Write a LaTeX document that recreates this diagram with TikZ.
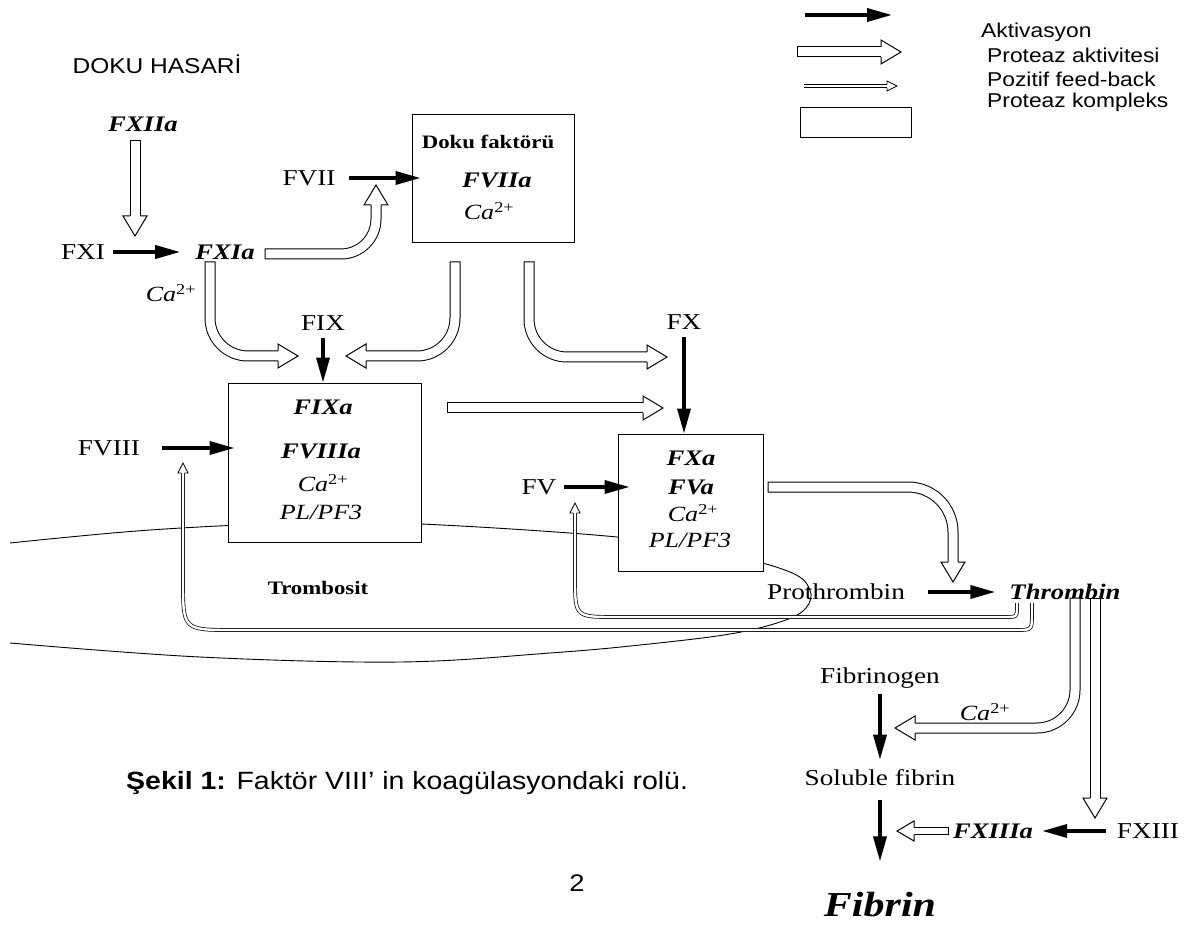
\documentclass[tikz,border=0pt]{standalone}
\usepackage{fontspec}
\setmainfont{Liberation Serif}[FakeStretch=1.2]
\newfontfamily\arialf{Liberation Sans}[FakeStretch=1.14]
\usetikzlibrary{arrows.meta}
\newcommand{\cai}{Ca\textsuperscript{\upshape 2+}}

\begin{document}
\begin{tikzpicture}[x=1pt, y=-1pt,
    act/.style={line width=3.5pt, -{Triangle[length=25pt, width=13pt]}},
    prot/.style={double=white, double distance=9pt, line width=1pt, line cap=rect, rounded corners=38pt},
    sprot/.style={double=white, double distance=6pt, line width=1pt, line cap=rect},
    fb/.style={double=white, double distance=2.4pt, line width=0.7pt},
    cbox/.style={draw, fill=white, line width=0.9pt, inner sep=0pt},
    lbl/.style={inner sep=0pt, font=\fontsize{22.7}{25}\selectfont},
    fac/.style={inner sep=0pt, font=\fontsize{22.2}{25}\selectfont\bfseries\itshape},
    ion/.style={inner sep=0pt, font=\fontsize{21.7}{25}\selectfont\itshape},
    sans/.style={inner sep=0pt, font=\arialf\fontsize{20}{24}\selectfont},
    phead/.pic={
        \fill[white] (-20,-12) -- (0,0) -- (-20,12) -- cycle;
        \draw[line width=1pt, line join=miter] (-20,-5) -- (-20,-12) -- (0,0) -- (-20,12) -- (-20,5);
    },
    shead/.pic={
        \fill[white] (-17,-10) -- (0,0) -- (-17,10) -- cycle;
        \draw[line width=1pt, line join=miter] (-17,-3.5) -- (-17,-10) -- (0,0) -- (-17,10) -- (-17,3.5);
    },
    fhead/.pic={
        \fill[white] (-10,-5) -- (0,0) -- (-10,5) -- cycle;
        \draw[line width=0.7pt, line join=miter] (-10,-1.6) -- (-10,-5) -- (0,0) -- (-10,5) -- (-10,1.6);
    }]
    \useasboundingbox (0,0) rectangle (1187,925);

    % platelet outline
    \draw[line width=0.9pt] plot[smooth, tension=0.6] coordinates {(10,543) (150,530) (300,523) (421,524)
        (617,537) (720,553) (790,572) (810,590) (806,608) (783,621) (730,634) (640,645) (550,653)
        (400,662) (200,657) (10,643)};

    % complex boxes
    \node[cbox, minimum width=162pt, minimum height=128pt] (dokubox) at (493,178) {};
    \node[cbox, minimum width=193pt, minimum height=159pt] (fixabox) at (324.5,462.5) {};
    \node[cbox, minimum width=145pt, minimum height=137pt] (fxabox) at (690.5,502.5) {};

    % texts
    \node[sans, font=\arialf\fontsize{21.5}{24}\selectfont] (hasar) at (157,64) {DOKU HASARİ};
    \node[fac] (fxiia) at (143,124) {FXIIa};
    \node[lbl] (fxi) at (83,252) {FXI};
    \node[fac] (fxia) at (225,252) {FXIa};
    \node[ion] (caA) at (171,293) {\cai};
    \node[lbl] (fvii) at (309,178) {FVII};
    \node[inner sep=0pt, font=\fontsize{19}{22}\selectfont\bfseries] (dokuf) at (488,142) {Doku faktörü};
    \node[fac] (fviia) at (497,180) {FVIIa};
    \node[ion] (caB) at (489,211) {\cai};
    \node[lbl] (fix) at (323,323) {FIX};
    \node[fac] (fixa) at (323,407) {FIXa};
    \node[fac] (fviiia) at (321,451) {FVIIIa};
    \node[ion] (caC) at (323,483) {\cai};
    \node[ion] (plA) at (321,512) {PL/PF3};
    \node[lbl] (fviii) at (109,448) {FVIII};
    \node[lbl] (fx) at (684,322) {FX};
    \node[fac] (fxa) at (691,458) {FXa};
    \node[fac] (fva) at (691,487) {FVa};
    \node[ion] (caD) at (693,513) {\cai};
    \node[ion] (plB) at (690,540) {PL/PF3};
    \node[lbl] (fv) at (539,487) {FV};
    \node[inner sep=0pt, font=\fontsize{19}{22}\selectfont\bfseries] (trombosit) at (318,588) {Trombosit};
    \node[lbl] (prothrombin) at (836,592) {Prothrombin};
    \node[fac] (thrombin) at (1065,592) {Thrombin};
    \node[lbl] (fibrinogen) at (880,678) {Fibrinogen};
    \node[ion] (caE) at (985,712) {\cai};
    \node[lbl] (soluble) at (880,778) {Soluble fibrin};
    \node[fac] (fxiiia) at (993,831) {FXIIIa};
    \node[lbl] (fxiii) at (1148,831) {FXIII};
    \node[fac, font=\fontsize{35}{38}\selectfont\bfseries\itshape] (fibrin) at (880,905) {Fibrin};
    \node[sans, font=\arialf\fontsize{25}{28}\selectfont, anchor=west] (caption) at (126,783)
        {\textbf{Şekil 1:} Faktör VIII’ in koagülasyondaki rolü.};
    \node[sans, font=\arialf\fontsize{24}{28}\selectfont] (pageno) at (577,883) {2};

    % legend
    \node[sans, anchor=west] (legact) at (981,32) {Aktivasyon};
    \node[sans, anchor=west] (legprot) at (987,55) {Proteaz aktivitesi};
    \node[sans, anchor=west] (legfb) at (987,79) {Pozitif feed-back};
    \node[sans, anchor=west] (legcx) at (987,102) {Proteaz kompleks};
    \coordinate (legA1) at (805,15);
    \coordinate (legA2) at (892,15);
    \coordinate (legB1) at (802,52);
    \coordinate (legB2) at (901,52);
    \coordinate (legC1) at (804,86);
    \coordinate (legC2) at (897,86);
    \draw[act] (legA1) -- (legA2);
    \draw[prot] (legB1) -- ([xshift=-20pt]legB2);
    \pic at (legB2) {phead};
    \draw[fb] (legC1) -- ([xshift=-10pt]legC2);
    \pic at (legC2) {fhead};
    \node[cbox, minimum width=111pt, minimum height=30pt] (legbox) at (855.5,122) {};

    % activation arrows
    \draw[act, shorten <=8pt, shorten >=15pt] (fxi) -- (fxia);
    \draw[act, shorten <=13pt, shorten >=-9pt] (fvii) -- (fvii -| dokubox.west);
    \draw[act, shorten <=7pt] (fix) -- (fix |- fixabox.north);
    \draw[act, shorten <=22pt, shorten >=-7pt] (fviii) -- (fviii -| fixabox.west);
    \draw[act, shorten <=7pt] (fx) -- (fx |- fxabox.north);
    \draw[act, shorten <=7pt, shorten >=-12pt] (fv) -- (fv -| fxabox.west);
    \draw[act, shorten <=23pt, shorten >=14pt] (prothrombin) -- (thrombin);
    \draw[act, shorten <=5pt, shorten >=10pt] (fibrinogen) -- (soluble);
    \draw[act, shorten <=14pt, shorten >=31pt] (soluble) -- (fibrin);
    \draw[act, shorten <=11pt, shorten >=9pt] (fxiii) -- (fxiiia);

    % protease arrows
    \coordinate (xiiS) at (135,146);
    \coordinate (xiiT) at (135,236);
    \draw[prot] (xiiS) -- ([yshift=20pt]xiiT);
    \pic[rotate=-90] at (xiiT) {phead};

    \coordinate (xiaS) at (270,254);
    \coordinate (xiaT) at (376,185);
    \draw[prot, rounded corners=35pt] (xiaS) -| ([yshift=-20pt]xiaT);
    \pic[rotate=90] at (xiaT) {phead};

    \coordinate (ixS) at (210,267);
    \coordinate (ixT) at (298,356);
    \draw[prot] (ixS) |- ([xshift=-20pt]ixT);
    \pic at (ixT) {phead};

    \coordinate (dlS) at (455,267);
    \coordinate (dlT) at (346,356);
    \draw[prot] (dlS) |- ([xshift=20pt]dlT);
    \pic[rotate=180] at (dlT) {phead};

    \coordinate (drS) at (529,267);
    \coordinate (drT) at (667,357);
    \draw[prot] (drS) |- ([xshift=-20pt]drT);
    \pic at (drT) {phead};

    \coordinate (ixaS) at (452,408);
    \coordinate (ixaT) at (663,408);
    \draw[prot] (ixaS) -- ([xshift=-20pt]ixaT);
    \pic at (ixaT) {phead};

    \coordinate (xaS) at (773,487);
    \coordinate (xaT) at (953,582);
    \draw[prot, rounded corners=45pt] (xaS) -| ([yshift=20pt]xaT);
    \pic[rotate=-90] at (xaT) {phead};

    \coordinate (thS1) at (1075,603);
    \coordinate (thT1) at (895,728);
    \draw[prot] (thS1) |- ([xshift=20pt]thT1);
    \pic[rotate=180] at (thT1) {phead};

    \coordinate (thS2) at (1095,603);
    \coordinate (thT2) at (1095,818);
    \draw[prot] (thS2) -- ([yshift=20pt]thT2);
    \pic[rotate=-90] at (thT2) {phead};

    \coordinate (xiiiaS) at (945,831);
    \coordinate (xiiiaT) at (897,831);
    \draw[sprot] (xiiiaS) -- ([xshift=17pt]xiiiaT);
    \pic[rotate=180] at (xiiiaT) {shead};

    % positive feed-back
    \coordinate (fbAS) at (1017,603);
    \coordinate (fbAT) at (575,503);
    \draw[fb] (fbAS) -- (1017,607) .. controls (1017,617) .. (1005,617) -- (615,617)
        .. controls (575,617) .. (575,577) -- ([yshift=-10pt]fbAT);
    \pic[rotate=90] at (fbAT) {fhead};

    \coordinate (fbBS) at (1032,603);
    \coordinate (fbBT) at (183,463);
    \draw[fb] (fbBS) -- (1032,614) .. controls (1032,630) .. (1016,630) -- (233,630)
        .. controls (183,630) .. (183,580) -- ([yshift=-10pt]fbBT);
    \pic[rotate=90] at (fbBT) {fhead};
\end{tikzpicture}
\end{document}
